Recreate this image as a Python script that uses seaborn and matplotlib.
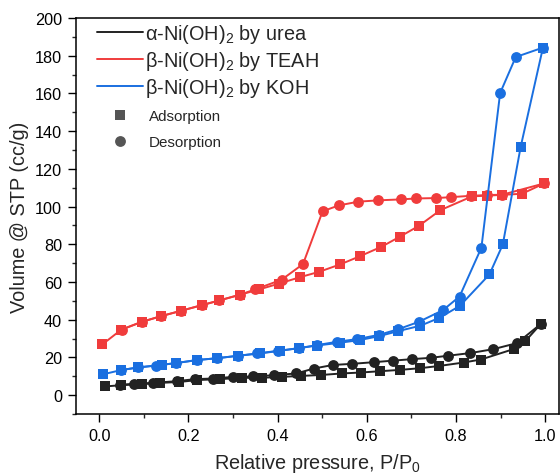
import matplotlib
matplotlib.use("Agg")
import matplotlib.pyplot as plt
from matplotlib.lines import Line2D
from matplotlib.ticker import MultipleLocator
import seaborn as sns
import pandas as pd

# alpha-Ni(OH)2 by urea
urea_ads_p = [0.013, 0.05, 0.096, 0.137, 0.18, 0.22, 0.271, 0.32, 0.365, 0.41, 0.453, 0.498,
              0.544, 0.587, 0.630, 0.675, 0.72, 0.763, 0.817, 0.856, 0.929, 0.955, 0.990]
urea_ads_v = [4.6, 5.3, 5.8, 6.5, 7.0, 8.0, 8.5, 9.2, 9.2, 9.7, 10.2, 10.7,
              11.5, 12.0, 12.7, 13.4, 14.3, 15.5, 17.3, 18.9, 24.4, 28.5, 37.7]
urea_des_p = [0.990, 0.937, 0.884, 0.832, 0.782, 0.744, 0.702, 0.659, 0.617, 0.567, 0.524,
              0.481, 0.442, 0.393, 0.345, 0.301, 0.255, 0.215, 0.174, 0.12, 0.077, 0.047]
urea_des_v = [37.7, 27.6, 24.4, 22.3, 20.9, 19.8, 19.1, 18.3, 17.5, 16.6, 16.0,
              14.1, 11.5, 10.6, 9.9, 9.7, 8.8, 8.5, 7.4, 6.5, 6.0, 5.5]

# beta-Ni(OH)2 by TEAH
teah_ads_p = [0.007, 0.05, 0.096, 0.139, 0.183, 0.23, 0.269, 0.315, 0.359, 0.404, 0.451, 0.493,
              0.540, 0.584, 0.633, 0.674, 0.717, 0.765, 0.836, 0.869, 0.904, 0.948, 0.998]
teah_ads_v = [26.9, 34.8, 38.9, 41.9, 44.7, 47.7, 50.2, 53.2, 56.1, 59.2, 62.6, 65.4,
              69.3, 73.6, 78.7, 84.0, 89.8, 98.1, 105.4, 105.8, 106.2, 106.8, 112.3]
teah_des_p = [0.998, 0.904, 0.869, 0.833, 0.789, 0.755, 0.711, 0.676, 0.626, 0.581, 0.537,
              0.501, 0.457, 0.409, 0.350, 0.315, 0.269, 0.23, 0.183, 0.139, 0.096, 0.051]
teah_des_v = [112.3, 106.3, 106.1, 105.7, 105.0, 104.5, 104.3, 103.8, 103.3, 102.6, 100.6,
              97.5, 69.5, 61.2, 56.1, 53.2, 50.2, 47.7, 44.7, 41.9, 38.9, 34.8]

# beta-Ni(OH)2 by KOH
koh_ads_p = [0.008, 0.049, 0.088, 0.141, 0.172, 0.219, 0.265, 0.312, 0.360, 0.405, 0.447, 0.488,
             0.540, 0.584, 0.628, 0.671, 0.72, 0.763, 0.809, 0.875, 0.905, 0.945, 0.995]
koh_ads_v = [11.0, 13.3, 14.7, 16.1, 17.0, 18.6, 19.6, 20.9, 22.1, 23.5, 24.9, 26.3,
             27.8, 29.2, 31.3, 34.0, 36.8, 41.0, 47.4, 64.0, 79.9, 131.6, 184.3]
koh_des_p = [0.995, 0.934, 0.899, 0.857, 0.808, 0.771, 0.717, 0.671, 0.628, 0.578, 0.533,
             0.488, 0.447, 0.401, 0.354, 0.312, 0.265, 0.219, 0.172, 0.128, 0.088, 0.049]
koh_des_v = [184.3, 179.3, 160.2, 78.2, 52.3, 45.1, 38.9, 35.0, 32.0, 29.7, 28.3,
             26.5, 24.9, 23.5, 22.1, 20.9, 19.6, 18.6, 17.0, 15.7, 14.7, 13.3]

sample_labels = [r"α-Ni(OH)$_2$ by urea", r"β-Ni(OH)$_2$ by TEAH", r"β-Ni(OH)$_2$ by KOH"]
branch_labels = ["Adsorption", "Desorption"]
x_ticks = [0.0, 0.2, 0.4, 0.6, 0.8, 1.0]
y_ticks = list(range(0, 201, 20))

colors = ["#222222", "#F03C3C", "#1A6FE0"]

sns.set_theme(style="ticks")
plt.rcParams["font.family"] = ["Liberation Sans", "DejaVu Sans"]
plt.rcParams["mathtext.default"] = "regular"

fig = plt.figure(figsize=(5.6, 4.77), dpi=100)
ax = fig.add_axes([76 / 560, 1 - 415 / 477, (559 - 76) / 560, (415 - 19) / 477])

series = [
    (urea_ads_p, urea_ads_v, urea_des_p, urea_des_v),
    (teah_ads_p, teah_ads_v, teah_des_p, teah_des_v),
    (koh_ads_p, koh_ads_v, koh_des_p, koh_des_v),
]

for (ap, av, dp, dv), col in zip(series, colors):
    ads = pd.DataFrame({"p": ap, "v": av})
    des = pd.DataFrame({"p": dp, "v": dv})
    sns.lineplot(data=ads, x="p", y="v", sort=False, estimator=None, ax=ax,
                 color=col, lw=1.4, marker="s", markersize=6.5, markeredgewidth=0)
    sns.lineplot(data=des, x="p", y="v", sort=False, estimator=None, ax=ax,
                 color=col, lw=1.4, marker="o", markersize=7.8, markeredgewidth=0)

ax.set_xlim(-0.052, 1.031)
ax.set_ylim(-10, 200)
ax.set_xticks(x_ticks)
ax.set_xticklabels([f"{t:.1f}" for t in x_ticks])
ax.set_yticks(y_ticks)
ax.xaxis.set_minor_locator(MultipleLocator(0.1))
ax.yaxis.set_minor_locator(MultipleLocator(10))
ax.tick_params(which="major", direction="out", length=6, width=1, labelsize=11.7,
               colors="black", pad=4)
ax.tick_params(which="minor", direction="out", length=3, width=1)
for s in ax.spines.values():
    s.set_visible(True)
    s.set_color("black")
    s.set_linewidth(1.1)

ax.set_xlabel(r"Relative pressure, P/P$_0$", fontsize=14.3, labelpad=6)
ax.set_ylabel("Volume @ STP (cc/g)", fontsize=14.3, labelpad=4)

line_handles = [Line2D([], [], color=c, lw=1.4) for c in colors]
leg1 = ax.legend(line_handles, sample_labels, loc="upper left",
                 bbox_to_anchor=(97 / 560, 1 - 23 / 477), bbox_transform=fig.transFigure,
                 frameon=False, fontsize=14.3, handlelength=2.3, handletextpad=0.1,
                 borderpad=0, labelspacing=0.2, borderaxespad=0)
ax.add_artist(leg1)

marker_handles = [
    Line2D([], [], color="#555555", ls="none", marker="s", markersize=6.5, markeredgewidth=0),
    Line2D([], [], color="#555555", ls="none", marker="o", markersize=7.8, markeredgewidth=0),
]
ax.legend(marker_handles, branch_labels, loc="upper left",
          bbox_to_anchor=(96 / 560, 1 - 110 / 477), bbox_transform=fig.transFigure,
          frameon=False, fontsize=10.9, handlelength=3.2, handletextpad=0.3,
          borderpad=0, labelspacing=0.8, borderaxespad=0)

fig.savefig("out.png", dpi=100)
